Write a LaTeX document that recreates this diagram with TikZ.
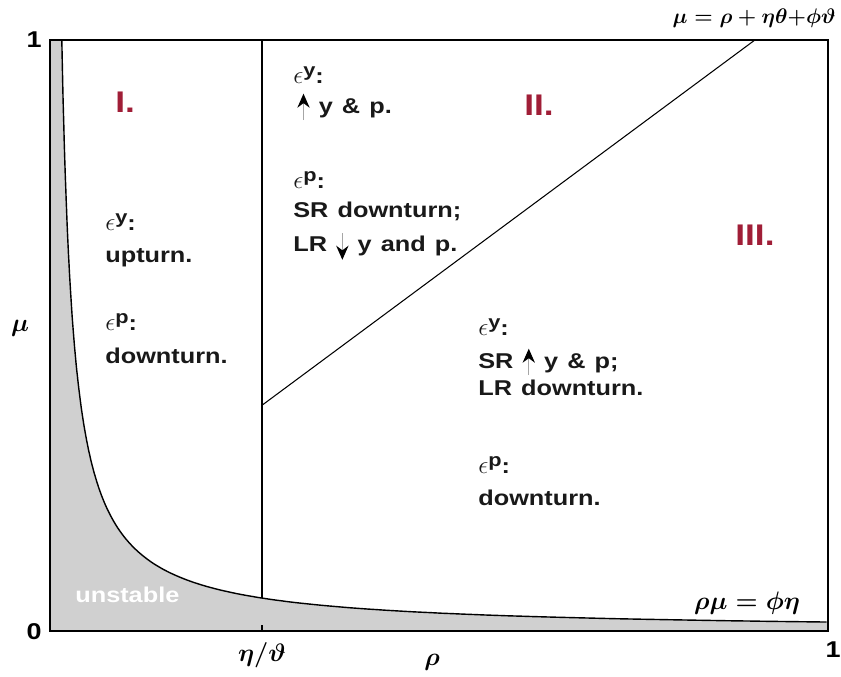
\documentclass[tikz,border=0pt]{standalone}
\usepackage{amsmath}
\usepackage{fontspec}
\setsansfont[FakeStretch=1.18, WordSpace=1.3]{Liberation Sans}
\usetikzlibrary{arrows.meta, positioning}
\definecolor{regred}{RGB}{160,30,55}
\definecolor{unstgray}{RGB}{208,208,208}
\newcommand{\epsup}[1]{{\fontsize{14}{15}\selectfont$\epsilon$}\raisebox{0.6ex}{\fontsize{10.5}{11}\selectfont #1}:}
\newcommand{\uparr}{\tikz[baseline=0pt]\draw[gray!70, line width=0.7pt, -{Stealth[black, length=8pt, width=7pt]}] (0pt,-4pt) -- (0pt,11pt);}
\newcommand{\downarr}{\tikz[baseline=0pt]\draw[gray!70, line width=0.7pt, -{Stealth[black, length=8pt, width=7pt]}] (0pt,10pt) -- (0pt,-5pt);}
\tikzset{
  lbl/.style={anchor=base west, inner sep=0pt, text=black!90, font=\sffamily\bfseries\fontsize{12.2}{14}\selectfont},
  region/.style={anchor=base west, inner sep=0pt, text=regred, font=\sffamily\bfseries\fontsize{17}{19}\selectfont},
  tick/.style={inner sep=0pt, font=\sffamily\bfseries\fontsize{13}{15}\selectfont},
  mathlbl/.style={inner sep=0pt, font=\boldmath\fontsize{15}{17}\selectfont},
  border/.style={line width=1.1pt},
  curve/.style={line width=0.8pt}
}

\begin{document}
\begin{tikzpicture}[x=0.02cm, y=-0.02cm]
  \useasboundingbox (0,0) rectangle (841,676);
  % phase diagram in (rho, mu) units
  \begin{scope}[shift={(50,631)}, x=15.56cm, y=11.82cm]
    \fill[unstgray] (0,0) -- (0,1)
      -- plot[domain=0:1, samples=160] ({exp(-4.186*(1-\x))}, {exp(-4.186*\x)})
      -- (1,0) -- cycle;
    \draw[curve] plot[domain=0:1, samples=160] ({exp(-4.186*(1-\x))}, {exp(-4.186*\x)});
    \coordinate (base) at (0.2725,0);
    \coordinate (knee) at (0.2725,0.0558);
    \coordinate (roof) at (0.2725,1);
    \coordinate (diagA) at (0.2725,0.382);
    \coordinate (diagB) at (0.906,1);
    \draw[curve] (knee) -- (roof);
    \draw[curve] (base) -- ++(0,0.011);
    \draw[line width=0.6pt] (diagA) -- (diagB);
    \draw[border] (0,0) rectangle (1,1);
  \end{scope}

  % region I
  \node[region] (rI) at (115,112) {I.};
  \node[lbl] (eyI) at (105,230) {\epsup{y}};
  \node[lbl] (upI) at (105,262) {upturn.};
  \node[lbl] (epI) at (105,330) {\epsup{p}};
  \node[lbl] (dnI) at (105,363) {downturn.};

  % region II
  \node[region] (rII) at (524,115) {II.};
  \node[lbl] (eyII) at (293,83) {\epsup{y}};
  \node[lbl] (upII) at (297,113) {\uparr\ y \& p.};
  \node[lbl] (epII) at (293,188) {\epsup{p}};
  \node[lbl] (srII) at (293,217) {SR downturn;};
  \node[lbl] (lrII) at (293,251) {LR \downarr\ y and p.};

  % region III
  \node[region] (rIII) at (735,245) {III.};
  \node[lbl] (eyIII) at (478,335) {\epsup{y}};
  \node[lbl] (srIII) at (478,368) {SR \uparr\ y \& p;};
  \node[lbl] (lrIII) at (478,395) {LR downturn.};
  \node[lbl] (epIII) at (478,473) {\epsup{p}};
  \node[lbl] (dnIII) at (478,505) {downturn.};

  \node[lbl, text=white] (unst) at (75,602) {unstable};

  % axes
  \node[tick] (one) at (34,40) {1};
  \node[tick] (zero) at (34,632) {0};
  \node[tick, anchor=east] (oneR) at (841,650) {1};
  \node[mathlbl] (muax) at (20,328) {$\mu$};
  \node[mathlbl] (rhoax) at (432,662) {$\rho$};
  \node[mathlbl] (ratio) at (262,655) {$\eta/\vartheta$};
  \node[mathlbl, anchor=east, font=\boldmath\fontsize{13}{15}\selectfont] (diageq) at (836,18) {$\mu = \rho + \eta\theta{+}\phi\vartheta$};
  \node[mathlbl, font=\boldmath\fontsize{14}{16}\selectfont] (hypeq) at (747,603) {$\rho\mu = \phi\eta$};
\end{tikzpicture}
\end{document}
